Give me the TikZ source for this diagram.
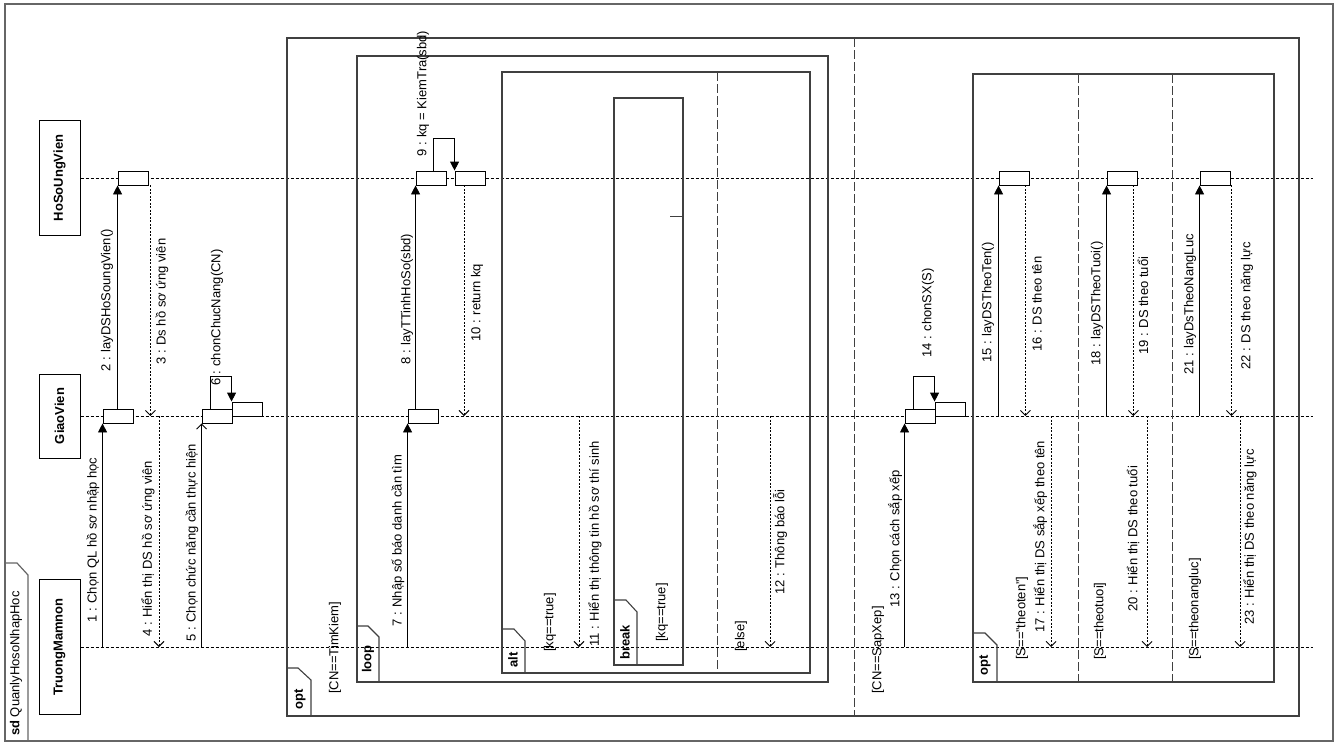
\documentclass[tikz,border=0pt]{standalone}
\usepackage{fontspec}
\setmainfont{Liberation Sans}
\usetikzlibrary{arrows.meta}
\begin{document}
\begin{tikzpicture}[x=1pt,y=-1pt,
  every node/.style={font=\fontsize{13}{15}\selectfont},
  head/.style={draw, line width=1pt, rotate=90, minimum height=41pt, inner sep=0pt, font=\fontsize{13}{15}\selectfont\bfseries},
  life/.style={dash pattern=on 3pt off 2pt, line width=0.8pt},
  act/.style={draw, fill=white, line width=0.9pt, minimum width=30pt, minimum height=14pt, inner sep=0pt},
  sync/.style={line width=0.9pt, -{Triangle[length=9pt,width=9pt]}},
  async/.style={line width=0.9pt, -{Straight Barb[length=5pt,width=10pt]}},
  ret/.style={line width=0.9pt, dash pattern=on 2pt off 1.5pt, -{Straight Barb[length=5pt,width=10pt]}},
  lbl/.style={rotate=90, anchor=west, inner sep=0pt},
  frag/.style={draw=black!75, line width=1.1pt},
  sep/.style={draw=black!75, line width=1pt, dash pattern=on 9pt off 3pt},
  tabtxt/.style={rotate=90, anchor=west, inner sep=0pt, font=\fontsize{13}{15}\selectfont\bfseries}
]
\useasboundingbox (0,0) rectangle (1340,755);
\fill[white] (0,0) rectangle (1340,755);

% outer sd frame
\draw[draw=black!60, line width=1.4pt] (5,4) rectangle (1333,741);
\draw[draw=black!60, line width=1.2pt] (5,563) -- (17,563) -- (28,575) -- (28,741);
\node[lbl] (sdl) at (16,736) {\textbf{sd} QuanlyHosoNhapHoc};

% lifeline heads
\node[head, minimum width=115pt] (hs) at (59.5,178) {HoSoUngVien};
\node[head, minimum width=84pt] (gv) at (59.5,416) {GiaoVien};
\node[head, minimum width=135pt] (tm) at (59.5,647) {TruongMamnon};

% lifelines
\coordinate (hsend) at (1313,178);
\coordinate (gvend) at (1313,416);
\coordinate (tmend) at (1313,647);
\draw[life] (hs.south) -- (hsend);
\draw[life] (gv.south) -- (gvend);
\draw[life] (tm.south) -- (tmend);

% outer opt fragment
\draw[frag] (287,38) rectangle (1299,716);
\draw[frag] (287,668) -- (298,668) -- (311,680) -- (311,716);
\node[tabtxt] (topt1) at (300,710) {opt};
\draw[sep] (854,38) -- (854,716);
\node[lbl] (g1) at (335,694) {[CN==TimKiem]};
\node[lbl] (g2) at (878,694) {[CN==SapXep]};

% loop fragment
\draw[frag] (357,56) rectangle (828,682);
\draw[frag] (357,626) -- (368,626) -- (379,637) -- (379,682);
\node[tabtxt] (tloop) at (368,673) {loop};

% alt fragment
\draw[frag] (502,72) rectangle (810,673);
\draw[frag] (502,629) -- (514,629) -- (525,641) -- (525,673);
\node[tabtxt] (talt) at (513,668) {alt};
\draw[sep] (717,72) -- (717,673);
\node[lbl] (g3) at (550,652) {[kq==true]};
\node[lbl] (g4) at (741,652) {[else]};

% break fragment
\draw[frag] (614,98) rectangle (683,665);
\draw[frag] (614,600) -- (626,600) -- (637,612) -- (637,665);
\node[tabtxt] (tbreak) at (625,660) {break};
\node[lbl] (g5) at (662,642) {[kq==true]};
\draw[line width=0.9pt, black!75] (670,216) -- (683,216);

% inner opt fragment
\draw[frag] (973,74) rectangle (1274,682);
\draw[frag] (973,633) -- (985,633) -- (997,645) -- (997,682);
\node[tabtxt] (topt2) at (985,676) {opt};
\draw[sep] (1078,74) -- (1078,682);
\draw[sep] (1172,74) -- (1172,682);
\node[lbl] (g6) at (1022,660) {[S=="theoten"]};
\node[lbl] (g7) at (1100,660) {[S==theotuoi]};
\node[lbl] (g8) at (1195,660) {[S==theonangluc]};

% activations
\node[act] (a1) at (118,416) {};
\node[act] (a2) at (133,178) {};
\node[act] (a5) at (217,416) {};
\node[act] (a6) at (247,409) {};
\node[act] (a7) at (423,416) {};
\node[act] (a8) at (431,178) {};
\node[act] (a9) at (470,178) {};
\node[act] (a13) at (920,416) {};
\node[act] (a14) at (950,409) {};
\node[act] (a15) at (1014,178) {};
\node[act] (a18) at (1122,178) {};
\node[act] (a21) at (1215,178) {};

% messages
\draw[sync] (a1.south west |- tm.south) -- (a1.south west);
\node[lbl] (l1) at (93,623) {1 : Chọn QL hồ sơ nhập học};

\draw[sync] (a2.south west |- a1.north) -- (a2.south west);
\node[lbl] (l2) at (107,372) {2 : layDSHoSoungVien()};

\draw[ret] ([xshift=2pt]a2.south east) -- ([xshift=2pt]a2.south east |- gv.south);
\node[lbl] (l3) at (162,365) {3 : Ds hồ sơ ứng viên};

\coordinate (m4) at (159,416);
\draw[ret] (m4) -- (m4 |- tm.south);
\node[lbl] (l4) at (148,637) {4 : Hiển thị DS hồ sơ ứng viên};

\draw[async] (a5.south west |- tm.south) -- (a5.south west);
\node[lbl] (l5) at (192,642) {5 : Chọn chức năng cần thực hiện};

\draw[sync] ([xshift=-7pt]a5.north) |- ([yshift=25pt]a6.north west) -- (a6.north west);
\node[lbl] (l6) at (217,386) {6 : chonChucNang(CN)};

\draw[sync] (a7.south west |- tm.south) -- (a7.south west);
\node[lbl] (l7) at (398,627) {7 : Nhập số báo danh cần tìm};

\draw[sync] (a8.south west |- a7.north) -- (a8.south west);
\node[lbl] (l8) at (407,365) {8 : layTTinhHoSo(sbd)};

\draw[sync] ([xshift=2pt]a8.north) |- ([yshift=32pt]a9.north west) -- (a9.north west);
\node[lbl] (l9) at (423,157) {9 : kq = KiemTra(sbd)};

\draw[ret] ([xshift=-6pt]a9.south) -- ([xshift=-6pt]a9.south |- gv.south);
\node[lbl] (l10) at (477,342) {10 : return kq};

\coordinate (m11) at (579,416);
\draw[ret] (m11) -- (m11 |- tm.south);
\node[lbl] (l11) at (595,647) {11 : Hiển thị thông tin hồ sơ thí sinh};

\coordinate (m12) at (770,416);
\draw[ret] (m12) -- (m12 |- tm.south);
\node[lbl] (l12) at (780,595) {12 : Thông báo lỗi};

\draw[sync] (a13.south west |- tm.south) -- (a13.south west);
\node[lbl] (l13) at (895,608) {13 : Chọn cách sắp xếp};

\draw[sync] ([xshift=-7pt]a13.north) |- ([yshift=25pt]a14.north west) -- (a14.north west);
\node[lbl] (l14) at (928,358) {14 : chonSX(S)};

\draw[sync] (a15.south west |- gv.south) -- (a15.south west);
\node[lbl] (l15) at (988,363) {15 : layDSTheoTen()};

\draw[ret] ([xshift=-4pt]a15.south east) -- ([xshift=-4pt]a15.south east |- gv.south);
\node[lbl] (l16) at (1037,352) {16 : DS theo tên};

\coordinate (m17) at (1051,416);
\draw[ret] (m17) -- (m17 |- tm.south);
\node[lbl] (l17) at (1040,633) {17 : Hiển thị DS sắp xếp theo tên};

\draw[sync] (a18.south west |- gv.south) -- (a18.south west);
\node[lbl] (l18) at (1097,366) {18 : layDSTheoTuoi()};

\draw[ret] ([xshift=-4pt]a18.south east) -- ([xshift=-4pt]a18.south east |- gv.south);
\node[lbl] (l19) at (1143,355) {19 : DS theo tuổi};

\coordinate (m20) at (1147,416);
\draw[ret] (m20) -- (m20 |- tm.south);
\node[lbl] (l20) at (1133,612) {20 : Hiển thị DS theo tuổi};

\draw[sync] (a21.south west |- gv.south) -- (a21.south west);
\node[lbl] (l21) at (1190,375) {21 : layDsTheoNangLuc};

\draw[ret] ([xshift=1pt]a21.south east) -- ([xshift=1pt]a21.south east |- gv.south);
\node[lbl] (l22) at (1247,370) {22 : DS theo năng lực};

\coordinate (m23) at (1240,416);
\draw[ret] (m23) -- (m23 |- tm.south);
\node[lbl] (l23) at (1250,625) {23 : Hiển thị DS theo năng lực};

\end{tikzpicture}
\end{document}
